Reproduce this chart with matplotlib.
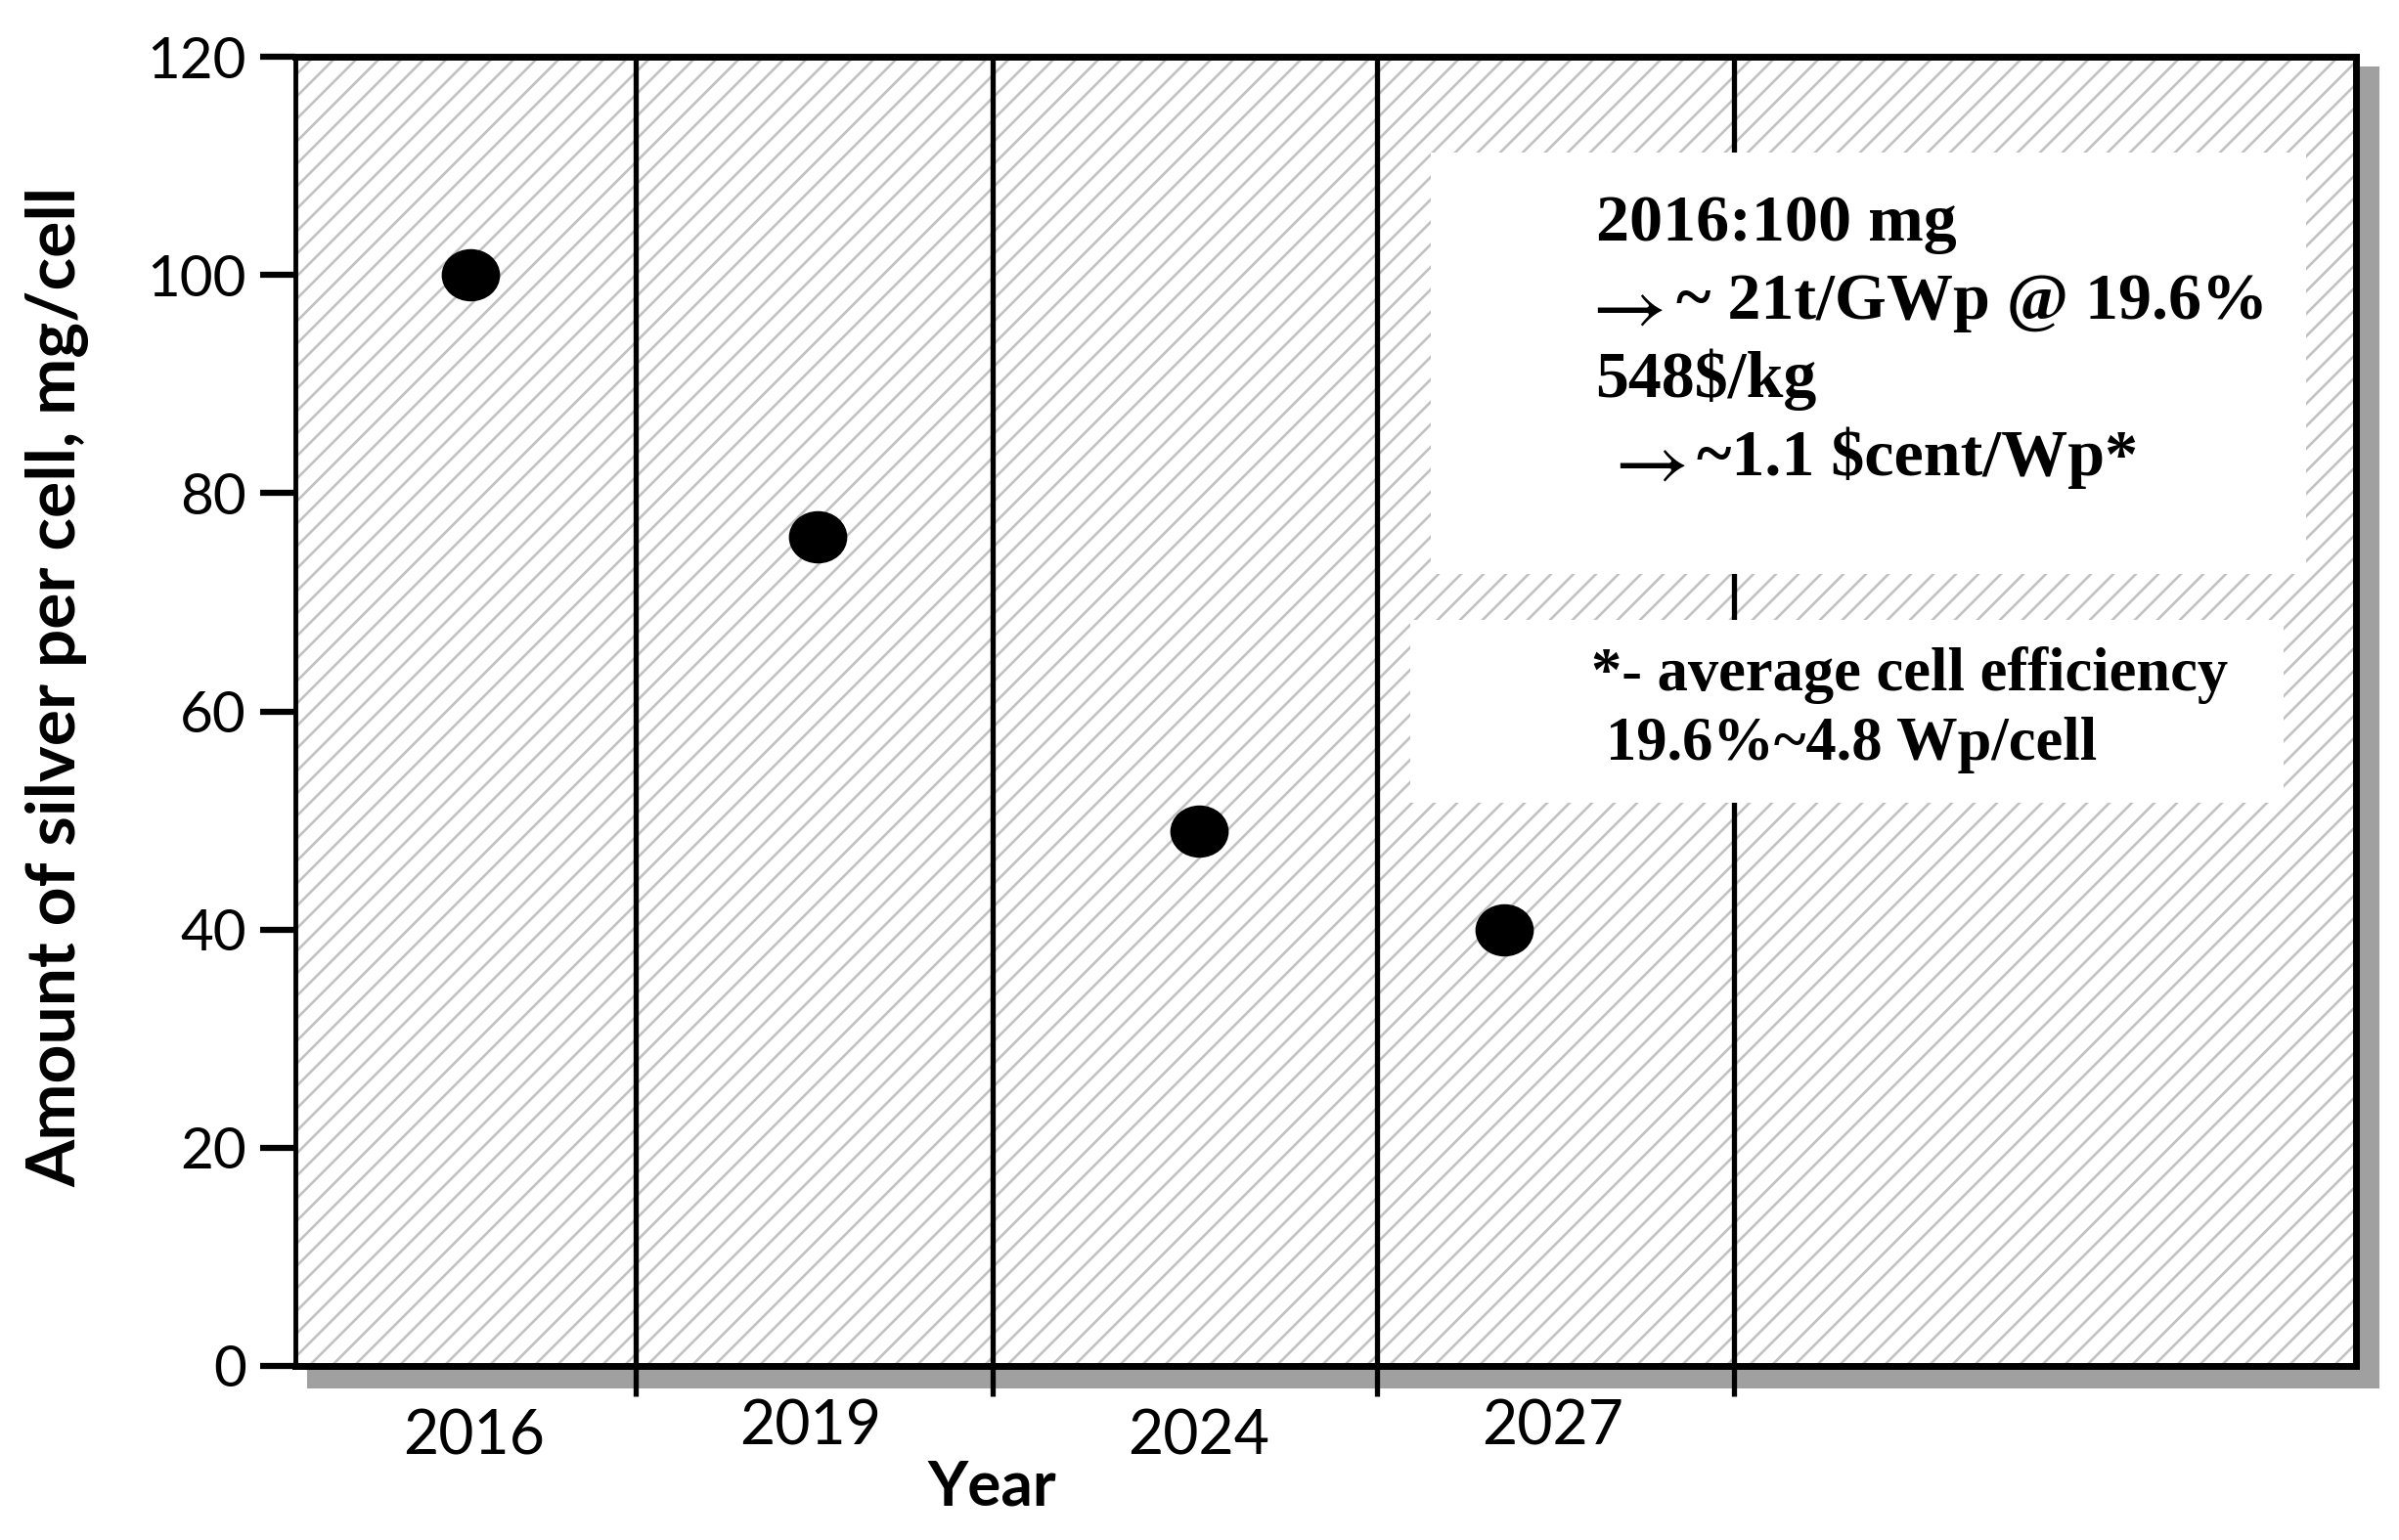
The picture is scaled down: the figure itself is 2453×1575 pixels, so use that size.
#!/usr/bin/env python3
import numpy as np
import matplotlib
matplotlib.use('Agg')
import matplotlib.pyplot as plt
from matplotlib.collections import LineCollection
from matplotlib.patches import Rectangle
from matplotlib.path import Path
from matplotlib.transforms import Affine2D, blended_transform_factory

# data
years = ['2016', '2019', '2024', '2027']
silver_mg = [100, 76, 49, 40]
point_x = [0.51, 1.52, 2.63, 3.52]      # marker positions along the x axis (0..6)
label_x = [0.52, 1.50, 2.63, 3.66]      # tick label positions
divider_x = [0.99, 2.03, 3.15, 4.19]    # category separators
yticks = [0, 20, 40, 60, 80, 100, 120]

ARROW = r'$\rightarrow$'
# (arrow before text?, text)
note_lines = [(False, '2016:100 mg'),
              (True, '~ 21t/GWp @ 19.6%'),
              (False, '548$/kg'),
              (True, '~1.1 $cent/Wp*')]
foot_lines = ['*- average cell efficiency',
              '19.6%~4.8 Wp/cell']

W, H = 2453, 1575
fig = plt.figure(figsize=(W / 100, H / 100), dpi=100)
fig.patch.set_facecolor('white')

# axes box in pixels
L, R, T, B = 302, 2409, 58, 1397
ax = fig.add_axes([L / W, 1 - B / H, (R - L) / W, (B - T) / H])
ax.set_xlim(0, 6)
ax.set_ylim(0, 120)
ax.set_zorder(2)

# drop shadow behind the plot area
fig.patches.append(Rectangle((314 / W, 1 - 1420 / H), (2433 - 314) / W, (1420 - 68) / H,
                             transform=fig.transFigure, facecolor='#a0a0a0',
                             edgecolor='none', zorder=0))

# diagonal stripe fill
aw, ah = R - L, B - T
step = 23
segs = []
for c in np.arange(-aw, ah + step, step):
    segs.append([(0, c / ah), (1, (aw + c) / ah)])
lc = LineCollection(segs, colors='#c2c2c2', linewidths=1.9,
                    transform=ax.transAxes, zorder=0.5)
ax.add_collection(lc)

# category separators
for xd in divider_x:
    ax.axvline(xd, color='black', lw=3.8, zorder=1.5)

# white text boxes
ax.add_patch(Rectangle((0.551, 0.605), 0.425, 0.322, transform=ax.transAxes,
                       facecolor='white', edgecolor='none', zorder=2))
ax.add_patch(Rectangle((0.541, 0.430), 0.424, 0.140, transform=ax.transAxes,
                       facecolor='white', edgecolor='none', zorder=2))

# markers (slightly wide ellipses)
ell = Path.unit_circle().transformed(Affine2D().scale(1.12, 1.0))
ax.plot(point_x, silver_mg, linestyle='none', marker=ell, markersize=42,
        color='black', zorder=3, clip_on=False)

serif = ['Liberation Serif', 'DejaVu Serif']
arrow_x = [None, 0.623, None, 0.634]
text_x = [0.631, 0.670, 0.631, 0.680]
for i, (has_arrow, line) in enumerate(note_lines):
    yy = 0.872 - i * 0.0595
    if has_arrow:
        ax.text(arrow_x[i], yy - 0.003, ARROW, transform=ax.transAxes, fontsize=60,
                math_fontfamily='stix', va='center', ha='left', zorder=4)
    ax.text(text_x[i], yy, line, transform=ax.transAxes,
            fontsize=49, fontweight='bold', family=serif, va='center',
            ha='left', zorder=4)
ax.text(0.629, 0.528, foot_lines[0], transform=ax.transAxes, fontsize=45,
        fontweight='bold', family=serif, va='center', ha='left', zorder=4)
ax.text(0.636, 0.474, foot_lines[1], transform=ax.transAxes, fontsize=45,
        fontweight='bold', family=serif, va='center', ha='left', zorder=4)

# spines
for side in ['top', 'right', 'bottom']:
    ax.spines[side].set_linewidth(5)
ax.spines['left'].set_linewidth(3.5)

# y axis
ax.set_yticks(yticks)
ax.set_yticklabels([str(v) for v in yticks], fontsize=42, family='Lato')
ax.tick_params(axis='y', direction='out', length=26, width=4.5, pad=10)

# x axis: ticks at separators, labels placed as text
ax.set_xticks(divider_x)
ax.set_xticklabels([])
ax.tick_params(axis='x', direction='out', length=22, width=3.8)
tr = blended_transform_factory(ax.transData, ax.transAxes)
for i, (xl, yr) in enumerate(zip(label_x, years)):
    yy = -0.0540 if i % 2 == 0 else -0.0470
    ax.text(xl, yy, yr, transform=tr, fontsize=45, family='Lato',
            ha='center', va='center')

fig.text(1014 / W, 1 - 1521 / H, 'Year', fontsize=46, fontweight='bold',
         family='Lato', ha='center', va='center')
fig.text(59 / W, 1 - 702 / H, 'Amount of silver per cell, mg/cell', fontsize=50,
         fontweight='bold', family='Lato', rotation=90, ha='center', va='center')

fig.savefig('out.png', dpi=100)
